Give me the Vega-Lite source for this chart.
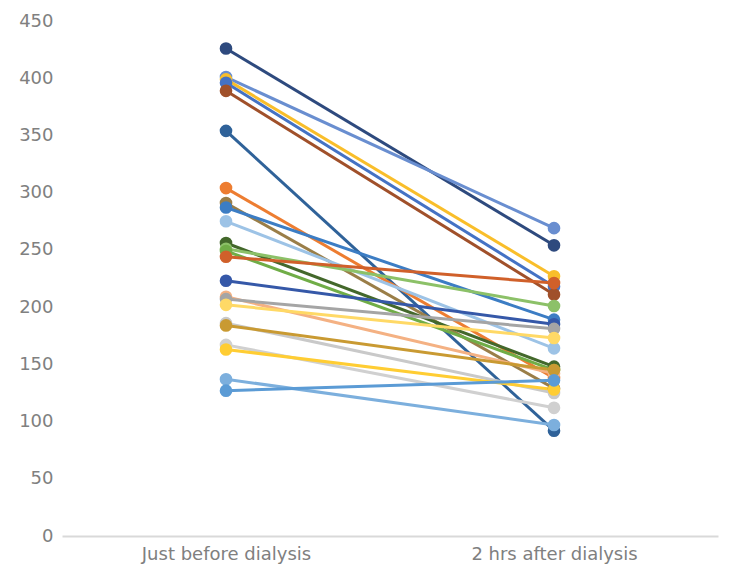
{
  "$schema": "https://vega.github.io/schema/vega-lite/v6.json",
  "width": 656,
  "height": 515,
  "autosize": {"type": "none"},
  "padding": {"left": 62, "top": 21, "right": 22, "bottom": 50},
  "background": "white",
  "config": {
    "view": {"stroke": null},
    "axis": {"labelFont": "DejaVu Sans", "labelFontSize": 18, "labelColor": "#808080", "grid": false, "ticks": false, "title": null}
  },
  "datasets": {
    "pts": [
      {"id": "s01", "time": "Just before dialysis", "value": 426}, {"id": "s01", "time": "2 hrs after dialysis", "value": 254},
      {"id": "s02", "time": "Just before dialysis", "value": 401}, {"id": "s02", "time": "2 hrs after dialysis", "value": 269},
      {"id": "s03", "time": "Just before dialysis", "value": 399}, {"id": "s03", "time": "2 hrs after dialysis", "value": 227},
      {"id": "s04", "time": "Just before dialysis", "value": 396}, {"id": "s04", "time": "2 hrs after dialysis", "value": 218},
      {"id": "s05", "time": "Just before dialysis", "value": 389}, {"id": "s05", "time": "2 hrs after dialysis", "value": 211},
      {"id": "s06", "time": "Just before dialysis", "value": 354}, {"id": "s06", "time": "2 hrs after dialysis", "value": 92},
      {"id": "s07", "time": "Just before dialysis", "value": 304}, {"id": "s07", "time": "2 hrs after dialysis", "value": 138},
      {"id": "s08", "time": "Just before dialysis", "value": 291}, {"id": "s08", "time": "2 hrs after dialysis", "value": 129},
      {"id": "s09", "time": "Just before dialysis", "value": 287}, {"id": "s09", "time": "2 hrs after dialysis", "value": 189},
      {"id": "s10", "time": "Just before dialysis", "value": 275}, {"id": "s10", "time": "2 hrs after dialysis", "value": 164},
      {"id": "s11", "time": "Just before dialysis", "value": 256}, {"id": "s11", "time": "2 hrs after dialysis", "value": 148},
      {"id": "s12", "time": "Just before dialysis", "value": 251}, {"id": "s12", "time": "2 hrs after dialysis", "value": 201},
      {"id": "s13", "time": "Just before dialysis", "value": 249}, {"id": "s13", "time": "2 hrs after dialysis", "value": 145},
      {"id": "s14", "time": "Just before dialysis", "value": 244}, {"id": "s14", "time": "2 hrs after dialysis", "value": 221},
      {"id": "s15", "time": "Just before dialysis", "value": 223}, {"id": "s15", "time": "2 hrs after dialysis", "value": 185},
      {"id": "s16", "time": "Just before dialysis", "value": 209}, {"id": "s16", "time": "2 hrs after dialysis", "value": 142},
      {"id": "s17", "time": "Just before dialysis", "value": 207}, {"id": "s17", "time": "2 hrs after dialysis", "value": 181},
      {"id": "s18", "time": "Just before dialysis", "value": 202}, {"id": "s18", "time": "2 hrs after dialysis", "value": 173},
      {"id": "s19", "time": "Just before dialysis", "value": 186}, {"id": "s19", "time": "2 hrs after dialysis", "value": 125},
      {"id": "s20", "time": "Just before dialysis", "value": 184}, {"id": "s20", "time": "2 hrs after dialysis", "value": 145},
      {"id": "s21", "time": "Just before dialysis", "value": 167}, {"id": "s21", "time": "2 hrs after dialysis", "value": 112},
      {"id": "s22", "time": "Just before dialysis", "value": 163}, {"id": "s22", "time": "2 hrs after dialysis", "value": 128},
      {"id": "s23", "time": "Just before dialysis", "value": 137}, {"id": "s23", "time": "2 hrs after dialysis", "value": 97},
      {"id": "s24", "time": "Just before dialysis", "value": 127}, {"id": "s24", "time": "2 hrs after dialysis", "value": 136}
    ]
  },
  "data": {"name": "pts"},
  "mark": {"type": "line", "strokeWidth": 3, "point": {"filled": true, "size": 160, "opacity": 1}},
  "encoding": {
    "x": {
      "field": "time", "type": "nominal",
      "sort": ["Just before dialysis", "2 hrs after dialysis"],
      "scale": {"padding": 0.5},
      "axis": {"labelAngle": 0, "domainColor": "#D9D9D9", "domainWidth": 2, "labelPadding": 9}
    },
    "y": {
      "field": "value", "type": "quantitative",
      "scale": {"domain": [0, 450], "nice": false},
      "axis": {"values": [0, 50, 100, 150, 200, 250, 300, 350, 400, 450], "domain": false, "labelPadding": 9}
    },
    "color": {
      "field": "id", "type": "nominal", "legend": null,
      "scale": {
        "domain": ["s01","s02","s03","s04","s05","s06","s07","s08","s09","s10","s11","s12","s13","s14","s15","s16","s17","s18","s19","s20","s21","s22","s23","s24"],
        "range": ["#2E4A7E","#698ED0","#F9BE2A","#4472C4","#A0502A","#2F6299","#ED7D31","#9A7E48","#3C7DC4","#9DC3E6","#43682B","#8CC168","#70AD47","#D0602A","#3558A8","#F4B183","#A5A5A5","#FFD966","#C9C9C9","#C99A32","#D0D0D0","#FFCD33","#7CAFDD","#5B9BD5"]
      }
    },
    "detail": {"field": "id"}
  }
}
